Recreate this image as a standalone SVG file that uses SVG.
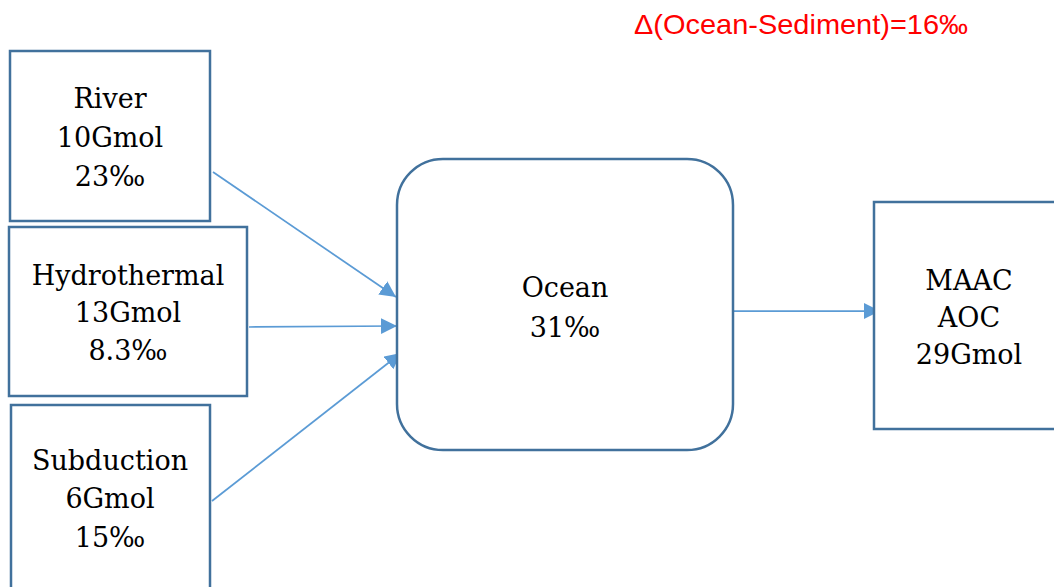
<svg xmlns="http://www.w3.org/2000/svg" width="1054" height="587" viewBox="0 0 1054 587">
<style>
.box{fill:#fff;stroke:#41719C;stroke-width:2.5}
.lbl{font-family:"DejaVu Serif","Liberation Serif",serif;font-size:27px;fill:#000;text-anchor:middle}
.con{stroke:#5B9BD5;stroke-width:1.75;fill:none;marker-end:url(#arr)}
.note{font-family:"Liberation Sans",Arial,sans-serif;font-size:28px;fill:#FF0000}
</style>
<defs>
<marker id="arr" markerUnits="userSpaceOnUse" markerWidth="18" markerHeight="18" refX="16" refY="8" orient="auto">
<path d="M0,0 L16,8 L0,16 Z" fill="#5B9BD5"/>
</marker>
</defs>
<rect width="1054" height="587" fill="#fff"/>
<text class="note" x="634" y="34" textLength="334" lengthAdjust="spacingAndGlyphs">Δ(Ocean-Sediment)=16‰</text>
<g id="connectors">
<line class="con" x1="213" y1="172" x2="396" y2="297"/>
<line class="con" x1="249" y1="327" x2="397" y2="326"/>
<line class="con" x1="212" y1="501" x2="401" y2="353"/>
<line class="con" x1="734" y1="311" x2="880" y2="311"/>
</g>
<g id="river">
<rect class="box" x="10" y="51" width="200" height="170"/>
<text class="lbl" x="110" y="108">River</text>
<text class="lbl" x="110" y="147">10Gmol</text>
<text class="lbl" x="110" y="186">23‰</text>
</g>
<g id="hydrothermal">
<rect class="box" x="9" y="227" width="238" height="169"/>
<text class="lbl" x="128" y="285">Hydrothermal</text>
<text class="lbl" x="128" y="322">13Gmol</text>
<text class="lbl" x="128" y="360">8.3‰</text>
</g>
<g id="subduction">
<rect class="box" x="11" y="405" width="199" height="200"/>
<text class="lbl" x="110" y="470">Subduction</text>
<text class="lbl" x="110" y="508">6Gmol</text>
<text class="lbl" x="110" y="547">15‰</text>
</g>
<g id="ocean">
<rect class="box" x="397" y="159" width="336" height="291" rx="46" ry="46"/>
<text class="lbl" x="565" y="297">Ocean</text>
<text class="lbl" x="565" y="337">31‰</text>
</g>
<g id="maac">
<rect class="box" x="874" y="202" width="200" height="227"/>
<text class="lbl" x="969" y="290">MAAC</text>
<text class="lbl" x="969" y="327">AOC</text>
<text class="lbl" x="969" y="364">29Gmol</text>
</g>
</svg>
